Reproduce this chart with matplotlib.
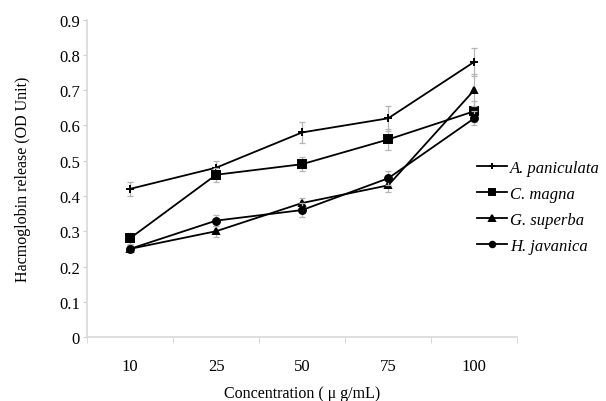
import numpy as np
import matplotlib.pyplot as plt

## data
conc = ['10', '25', '50', '75', '100']
species = ['A. paniculata', 'C. magna', 'G. superba', 'H. javanica']
a_pan = [0.42, 0.48, 0.58, 0.62, 0.78]
c_mag = [0.28, 0.46, 0.49, 0.56, 0.64]
g_sup = [0.25, 0.30, 0.38, 0.43, 0.70]
h_jav = [0.25, 0.33, 0.36, 0.45, 0.62]
a_err = [0.02, 0.02, 0.03, 0.035, 0.04]
c_err = [0.015, 0.02, 0.02, 0.03, 0.03]
g_err = [0.01, 0.015, 0.015, 0.02, 0.045]
h_err = [0.01, 0.015, 0.02, 0.02, 0.02]

plt.rcParams['font.family'] = ['Liberation Serif', 'DejaVu Serif']

fig = plt.figure(figsize=(6.06, 4.02), dpi=100)
ax = fig.add_axes([0.1436, 0.159, 0.71, 0.79])

x = np.arange(len(conc))
series = [(a_pan, a_err, '+', 6), (c_mag, c_err, 's', 5.5),
          (g_sup, g_err, '^', 5), (h_jav, h_err, 'o', 5)]
for (vals, err, mk, ms), name in zip(series, species):
	## error bars first, kept out of the legend
	ax.errorbar(x, vals, yerr=err, fmt='none', ecolor='#b5b5b5',
				elinewidth=0.9, capsize=2.5, capthick=0.9)
	ax.plot(x, vals, color='black', lw=1.3, marker=mk, ms=ms, mew=1.4, label=name)

ax.set_xlim(-0.5, len(conc) - 0.5)
ax.set_ylim(0, 0.9)
ax.set_yticks(np.arange(0, 0.91, 0.1))
ax.set_yticklabels(['0'] + ['%.1f' % v for v in np.arange(0.1, 0.91, 0.1)])
ax.set_xticks(x)
ax.set_xticklabels(conc)
ax.set_xticks(np.arange(-0.5, len(conc)), minor=True)
ax.tick_params(axis='x', which='major', length=0, pad=15, labelsize=12)
ax.tick_params(axis='x', which='minor', length=4, color='#d0d0d0', direction='out')
ax.tick_params(axis='y', length=3, color='#d0d0d0', pad=2, labelsize=12)

for s in ['top', 'right']:
	ax.spines[s].set_visible(False)
for s in ['left', 'bottom']:
	ax.spines[s].set_color('#d8d8d8')
	ax.spines[s].set_linewidth(1.2)

ax.set_xlabel('Concentration ( μ g/mL)', fontsize=11.5, labelpad=8)
ax.set_ylabel('Hacmoglobin release (OD Unit)', fontsize=11.5, labelpad=20)

leg = ax.legend(loc='center left', bbox_to_anchor=(0.89, 0.41), frameon=False,
				prop={'style': 'italic', 'size': 12}, handlelength=1.8,
				handletextpad=0.2, labelspacing=0.6, borderaxespad=0,
				markerscale=0.8)

fig.savefig('out.png', dpi=100)
